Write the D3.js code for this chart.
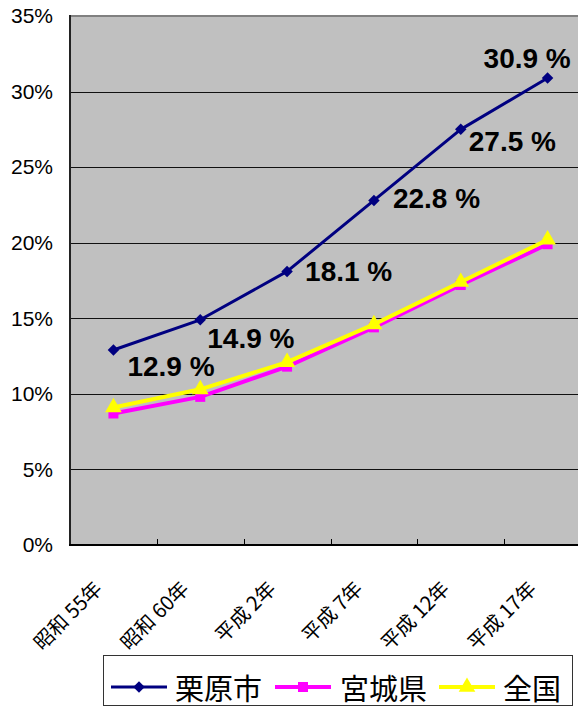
<!DOCTYPE html>
<html>
<head>
<meta charset="utf-8">
<script src="https://cdn.jsdelivr.net/npm/d3@7/dist/d3.min.js"></script>
<style>
  html, body { margin: 0; padding: 0; background: #fff; }
  svg { display: block; }
</style>
</head>
<body>
<svg id="chart" width="578" height="707"></svg>
<script>
// ---- data ----
const categories = ["昭和 55年", "昭和 60年", "平成 2年", "平成 7年", "平成 12年", "平成 17年"];
const seriesNames = ["栗原市", "宮城県", "全国"];
const kuriharaValues = [12.9, 14.9, 18.1, 22.8, 27.5, 30.9];
const miyagiValues = [8.7, 9.8, 11.8, 14.4, 17.2, 19.9];
const zenkokuValues = [9.1, 10.3, 12.1, 14.6, 17.4, 20.2];
const yTicks = [0, 5, 10, 15, 20, 25, 30, 35];

// ---- layout (not data) ----
const labelOffsets = [[14, 26], [7, 28], [18, 10], [19, 8], [8, 22], [-64, -10]];

const svg = d3.select("#chart");
const plot = { left: 70, top: 16, bottom: 545, right: 591 };

const x = d3.scaleBand().domain(categories).range([plot.left, plot.right]).padding(0);
const cx = c => x(c) + x.bandwidth() / 2;
const y = d3.scaleLinear().domain([0, 35]).range([plot.bottom, plot.top]);

// background
svg.append("rect")
  .attr("x", plot.left).attr("y", plot.top)
  .attr("width", plot.right - plot.left).attr("height", plot.bottom - plot.top)
  .attr("fill", "#c0c0c0");

// gridlines
svg.append("g").selectAll("line")
  .data(yTicks.filter(t => t > 0 && t < 35))
  .join("line")
  .attr("x1", plot.left).attr("x2", plot.right)
  .attr("y1", d => Math.round(y(d)) + 0.5).attr("y2", d => Math.round(y(d)) + 0.5)
  .attr("stroke", "#111").attr("stroke-width", 1);

// top border
svg.append("line")
  .attr("x1", plot.left).attr("x2", plot.right)
  .attr("y1", plot.top).attr("y2", plot.top)
  .attr("stroke", "#808080").attr("stroke-width", 2);

// y axis labels
const yAxis = d3.axisLeft(y).tickValues(yTicks).tickSize(0).tickPadding(17).tickFormat(d => d + "%");
const gy = svg.append("g").attr("transform", `translate(${plot.left},0)`).call(yAxis);
gy.select(".domain").remove();
gy.selectAll("text")
  .attr("font-family", "'Liberation Sans', Arial, sans-serif")
  .attr("font-size", 21).attr("fill", "#000");

// x ticks (inside, at category boundaries)
svg.append("g").selectAll("line")
  .data(categories.slice(1))
  .join("line")
  .attr("x1", d => Math.round(x(d)) + 0.5).attr("x2", d => Math.round(x(d)) + 0.5)
  .attr("y1", plot.bottom).attr("y2", plot.bottom - 6)
  .attr("stroke", "#000").attr("stroke-width", 1);

// axes lines
svg.append("line")
  .attr("x1", plot.left).attr("x2", plot.left)
  .attr("y1", plot.top - 1).attr("y2", plot.bottom + 1)
  .attr("stroke", "#222").attr("stroke-width", 2);
svg.append("line")
  .attr("x1", plot.left - 1).attr("x2", plot.right)
  .attr("y1", plot.bottom).attr("y2", plot.bottom)
  .attr("stroke", "#000").attr("stroke-width", 2);

// x labels rotated
svg.append("g").selectAll("text")
  .data(categories)
  .join("text")
  .attr("transform", d => `translate(${cx(d) - 16},${plot.bottom + 39}) rotate(-45)`)
  .attr("text-anchor", "end")
  .attr("dominant-baseline", "central")
  .attr("font-family", "'Noto Sans CJK JP', sans-serif")
  .attr("font-size", 20)
  .attr("fill", "#000")
  .text(d => d);

// series
const series = [
  { name: seriesNames[1], values: miyagiValues, color: "#ff00ff", width: 4, marker: "square" },
  { name: seriesNames[2], values: zenkokuValues, color: "#ffff00", width: 4, marker: "triangle" },
  { name: seriesNames[0], values: kuriharaValues, color: "#000080", width: 3, marker: "diamond" }
];
const symbolFor = m => m === "triangle" ? d3.symbolTriangle : d3.symbolSquare;
const sizeFor = m => m === "square" ? 100 : m === "triangle" ? 120 : 66;
const rotFor = m => m === "diamond" ? " rotate(45)" : "";

const line = d3.line().x((d, i) => cx(categories[i])).y(d => y(d));

series.forEach(s => {
  svg.append("path")
    .datum(s.values)
    .attr("d", line)
    .attr("fill", "none")
    .attr("stroke", s.color)
    .attr("stroke-width", s.width)
    .attr("stroke-linejoin", "round");
  svg.append("g").selectAll("path")
    .data(s.values)
    .join("path")
    .attr("transform", (d, i) => `translate(${cx(categories[i])},${y(d)})` + rotFor(s.marker))
    .attr("d", d3.symbol().type(symbolFor(s.marker)).size(sizeFor(s.marker)))
    .attr("fill", s.color);
});

// data labels for 栗原市
svg.append("g").selectAll("text")
  .data(kuriharaValues)
  .join("text")
  .attr("x", (d, i) => cx(categories[i]) + labelOffsets[i][0])
  .attr("y", (d, i) => y(d) + labelOffsets[i][1])
  .attr("font-family", "'Liberation Sans', Arial, sans-serif")
  .attr("font-weight", "bold")
  .attr("font-size", 28)
  .attr("fill", "#000")
  .text(d => d.toFixed(1) + " %");

// legend
const legend = svg.append("g");
legend.append("rect")
  .attr("x", 103.5).attr("y", 655.5).attr("width", 469).attr("height", 50)
  .attr("fill", "#fff").attr("stroke", "#333").attr("stroke-width", 1);
const legendItems = [
  { name: seriesNames[0], color: "#000080", marker: "diamond", width: 3, x0: 111, tx: 175 },
  { name: seriesNames[1], color: "#ff00ff", marker: "square", width: 4, x0: 275, tx: 340 },
  { name: seriesNames[2], color: "#ffff00", marker: "triangle", width: 4, x0: 439, tx: 503 }
];
const ly = 687;
const li = legend.selectAll("g.item").data(legendItems).join("g").attr("class", "item");
li.append("line")
  .attr("x1", d => d.x0).attr("x2", d => d.x0 + 56)
  .attr("y1", ly).attr("y2", ly)
  .attr("stroke", d => d.color).attr("stroke-width", d => d.width);
li.append("path")
  .attr("transform", d => `translate(${d.x0 + 28},${ly})` + rotFor(d.marker))
  .attr("d", d => d3.symbol().type(symbolFor(d.marker)).size(sizeFor(d.marker))())
  .attr("fill", d => d.color);
li.append("text")
  .attr("x", d => d.tx).attr("y", ly)
  .attr("dominant-baseline", "central")
  .attr("font-family", "'Noto Sans CJK JP', sans-serif")
  .attr("font-size", 29)
  .attr("fill", "#000")
  .text(d => d.name);
</script>
</body>
</html>
